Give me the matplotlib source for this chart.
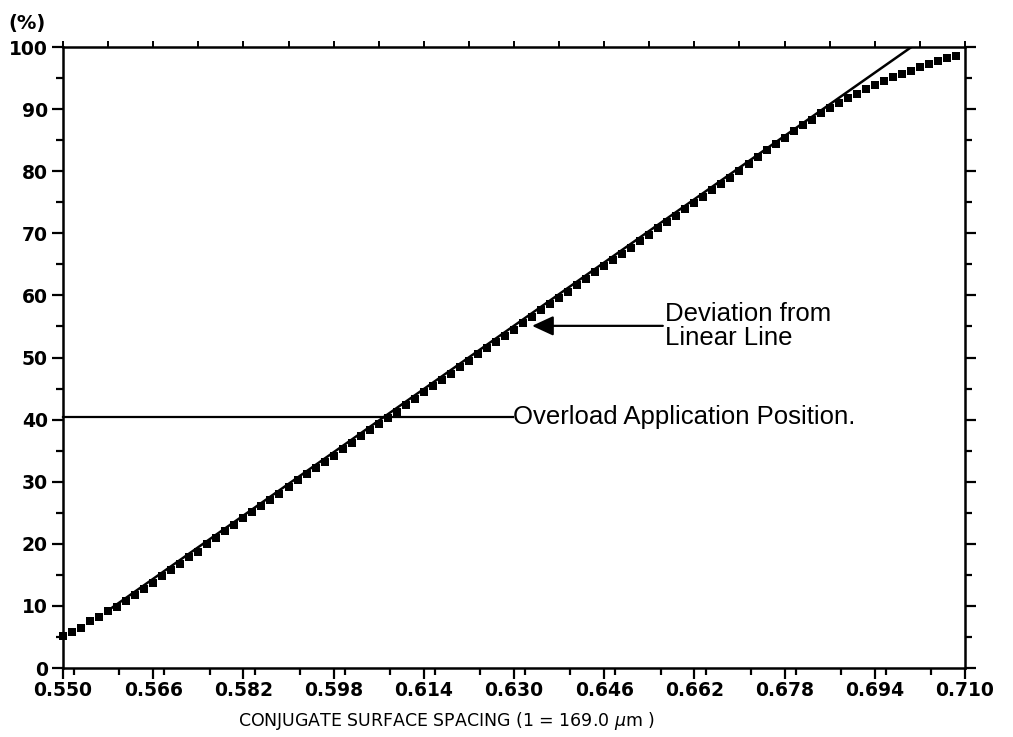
import numpy as np
import matplotlib.pyplot as plt
from matplotlib.ticker import MultipleLocator

# measured load (%) at each conjugate surface spacing step (0.0016 apart)
spacing = np.round(np.arange(100) * 0.0016 + 0.550, 4)
load = [
    5.1, 5.8, 6.5, 7.5, 8.2, 9.2, 9.9, 10.8, 11.8, 12.7,
    13.7, 14.8, 15.8, 16.7, 17.8, 18.7, 20.0, 21.0, 22.0, 23.0,
    24.1, 25.1, 26.1, 27.1, 28.1, 29.2, 30.2, 31.2, 32.2, 33.2,
    34.2, 35.3, 36.3, 37.3, 38.3, 39.3, 40.3, 41.3, 42.3, 43.4,
    44.4, 45.4, 46.4, 47.4, 48.4, 49.4, 50.5, 51.5, 52.5, 53.5,
    54.5, 55.5, 56.5, 57.6, 58.6, 59.6, 60.6, 61.6, 62.6, 63.7,
    64.7, 65.7, 66.7, 67.7, 68.8, 69.8, 70.8, 71.8, 72.8, 73.9,
    74.9, 75.9, 76.9, 77.9, 78.9, 80.0, 81.2, 82.3, 83.4, 84.4,
    85.4, 86.4, 87.4, 88.3, 89.3, 90.2, 91.0, 91.8, 92.5, 93.2,
    93.9, 94.5, 95.1, 95.7, 96.2, 96.8, 97.3, 97.8, 98.2, 98.6,
]

# straight reference line
linear_x = [0.5582, 0.7005]
linear_y = [9.4, 100.0]

overload_y = 40.4
overload_end_x = 0.6298
arrow_tip = (0.6332, 55.1)
arrow_tail = (0.6564, 55.1)

xticks = [0.550, 0.566, 0.582, 0.598, 0.614, 0.630, 0.646, 0.662, 0.678, 0.694, 0.710]
yticks = [0, 10, 20, 30, 40, 50, 60, 70, 80, 90, 100]

fig = plt.figure(figsize=(10.13, 7.37), dpi=100)
ax = fig.add_axes([0.0622, 0.0936, 0.8904, 0.8426])

ax.plot(spacing, load, 's', color='black', ms=5.2, mew=0, clip_on=False)
ax.plot(linear_x, linear_y, '-', color='black', lw=1.8, solid_capstyle='butt')

# overload application position
ax.plot([0.550, overload_end_x], [overload_y, overload_y], '-', color='black', lw=1.6,
        clip_on=False)
ax.text(overload_end_x, overload_y, 'Overload Application Position.',
        family='Liberation Sans', fontsize=18.5, va='center', ha='left')

# deviation arrow
ax.annotate('', xy=arrow_tip, xytext=arrow_tail,
            arrowprops=dict(arrowstyle='-|>,head_length=1.3,head_width=0.6',
                            color='black', lw=1.6, shrinkA=0, shrinkB=0))
ax.text(arrow_tail[0] + 0.0003, arrow_tail[1], 'Deviation from\nLinear Line',
        family='Liberation Sans', fontsize=18.5, va='center', ha='left',
        linespacing=1.0)

ax.set_xlim(0.550, 0.710)
ax.set_ylim(0, 100)
ax.set_xticks(xticks)
ax.set_xticklabels([f'{t:.3f}' for t in xticks])
ax.set_yticks(yticks)
ax.xaxis.set_minor_locator(MultipleLocator(0.008))
ax.yaxis.set_minor_locator(MultipleLocator(5))

for side in ['left', 'right', 'top', 'bottom']:
    ax.spines[side].set_linewidth(1.8)

ax.tick_params(which='both', direction='out', top=True, right=True, width=1.6,
               labelsize=13.5, colors='black')
ax.tick_params(which='major', length=8, pad=3)
ax.tick_params(which='minor', length=5)
ax.tick_params(axis='x', which='both', top=False)
ax.tick_params(axis='x', which='major', pad=1)
for lbl in ax.get_xticklabels() + ax.get_yticklabels():
    lbl.set_fontweight('bold')

# short ticks along the top edge
top = ax.secondary_xaxis('top')
top.set_xticks(np.round(np.arange(21) * 0.008 + 0.550, 3))
top.tick_params(direction='out', length=4, width=1.4, labeltop=False)
top.spines['top'].set_visible(False)

ax.set_xlabel('CONJUGATE SURFACE SPACING (1 = 169.0 $\\mu$m )', fontsize=12.5)
ax.xaxis.set_label_coords(0.425, -0.067)
fig.text(0.008, 0.968, '(%)', fontsize=14, fontweight='bold', ha='left', va='center')

fig.savefig('out.png', dpi=100)
